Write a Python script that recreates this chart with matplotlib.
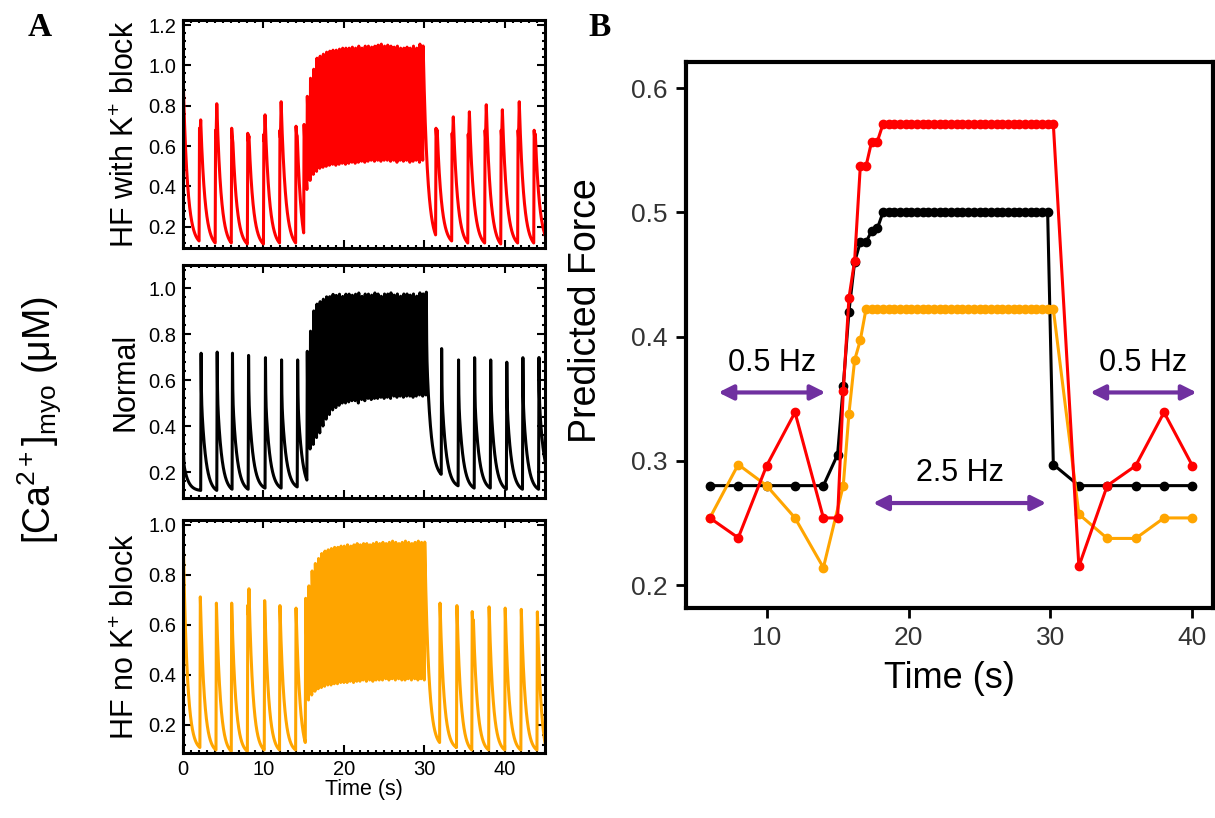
import numpy as np
import matplotlib
matplotlib.use("Agg")
import matplotlib.pyplot as plt
from matplotlib.ticker import MultipleLocator, AutoMinorLocator, FormatStrFormatter

plt.rcParams['font.family'] = ['Liberation Sans', 'DejaVu Sans']
plt.rcParams['mathtext.fontset'] = 'custom'
plt.rcParams['mathtext.rm'] = 'Liberation Sans'
plt.rcParams['mathtext.it'] = 'Liberation Sans:italic'

# ---------------- panel A : calcium transients (beat times, peaks, troughs) ----------------
# first_* = height of the early spike when a beat shows a double peak (None = single peak)
red_beats = [0, 2, 4, 6, 8, 10, 12, 14] + list(np.round(np.arange(15.0, 29.9, 0.4), 2)) + \
            [31.4, 33.4, 35.4, 37.5, 39.5, 41.6, 43.6]
red_first = [None, 0.69, 0.68, 0.69, 0.665, 0.66, 0.68, 0.70] + [None] * 38 + \
            [0.69, 0.665, 0.66, 0.68, 0.68, 0.68, 0.68]
red_peaks = [0.89, 0.73, 0.81, 0.62, 0.65, 0.755, 0.82, 0.65,
             0.71, 0.85, 0.94, 0.985, 1.04, 1.05, 1.06, 1.07, 1.075, 1.08, 1.08, 1.085, 1.09,
             1.09, 1.09, 1.095, 1.09, 1.10, 1.09, 1.10, 1.10, 1.095, 1.10, 1.105, 1.11, 1.10,
             1.105, 1.10, 1.095, 1.10, 1.09, 1.09, 1.095, 1.09, 1.10, 1.09, 1.11, 1.10,
             0.68, 0.745, 0.77, 0.805, 0.78, 0.82, 0.66]
red_troughs = [0.13, 0.12, 0.12, 0.115, 0.115, 0.12, 0.12, 0.17,
               0.385, 0.43, 0.46, 0.475, 0.49, 0.495, 0.50, 0.505, 0.51, 0.505, 0.51, 0.515,
               0.51, 0.515, 0.52, 0.515, 0.52, 0.525, 0.52, 0.525, 0.53, 0.525, 0.53, 0.525,
               0.53, 0.53, 0.525, 0.53, 0.52, 0.53, 0.525, 0.53, 0.52, 0.525, 0.53, 0.52,
               0.53, 0.16,
               0.13, 0.12, 0.12, 0.115, 0.12, 0.12, 0.16]

black_beats = [0, 2.2, 4.2, 6.1, 8.1, 10.2, 12.2, 14.2] + list(np.round(np.arange(15.4, 30.3, 0.4), 2)) + \
              [32.1, 34.2, 36.2, 38.2, 40.2, 42.2, 44.2]
black_first = [None] * 53
black_peaks = [0.30, 0.73, 0.735, 0.73, 0.72, 0.71, 0.70, 0.70,
               0.74, 0.83, 0.92, 0.95, 0.96, 0.97, 0.98, 0.98, 0.99, 0.985, 0.99, 0.98, 0.99,
               0.99, 0.985, 0.99, 0.995, 0.98, 0.99, 0.99, 0.985, 0.995, 0.99, 0.98, 0.99, 0.99,
               0.995, 0.985, 0.99, 0.98, 0.99, 0.99, 0.985, 0.99, 0.98, 0.995, 0.99, 1.0,
               0.75, 0.70, 0.71, 0.70, 0.69, 0.71, 0.71]
black_troughs = [0.12, 0.12, 0.125, 0.125, 0.13, 0.13, 0.135, 0.165,
                 0.30, 0.32, 0.35, 0.37, 0.40, 0.43, 0.45, 0.47, 0.48, 0.49, 0.50, 0.50, 0.505,
                 0.51, 0.51, 0.50, 0.515, 0.51, 0.52, 0.515, 0.52, 0.52, 0.525, 0.52, 0.525,
                 0.52, 0.53, 0.525, 0.53, 0.525, 0.53, 0.53, 0.525, 0.53, 0.535, 0.53, 0.535,
                 0.19,
                 0.14, 0.13, 0.13, 0.125, 0.125, 0.125, 0.25]

orange_beats = [0, 2.1, 4.1, 6.0, 8.0, 10.1, 12.0, 14.0] + list(np.round(np.arange(15.2, 30.1, 0.4), 2)) + \
               [31.9, 34.0, 35.9, 38.0, 40.0, 42.0, 44.0]
orange_first = [None, None, None, None, 0.68, None, None, None] + [None] * 38 + \
               [None, None, 0.655, None, None, None, None]
orange_peaks = [0.91, 0.715, 0.69, 0.69, 0.745, 0.70, 0.68, 0.67,
                0.71, 0.76, 0.82, 0.85, 0.87, 0.89, 0.90, 0.905, 0.91, 0.915, 0.915, 0.92, 0.92,
                0.925, 0.92, 0.925, 0.93, 0.925, 0.93, 0.93, 0.925, 0.93, 0.935, 0.93, 0.935,
                0.93, 0.935, 0.94, 0.935, 0.93, 0.935, 0.94, 0.935, 0.93, 0.935, 0.94, 0.935, 0.935,
                0.69, 0.68, 0.62, 0.675, 0.67, 0.665, 0.655]
orange_troughs = [0.11, 0.10, 0.095, 0.095, 0.10, 0.10, 0.10, 0.13,
                  0.30, 0.32, 0.335, 0.345, 0.35, 0.355, 0.36, 0.36, 0.365, 0.365, 0.37, 0.37,
                  0.37, 0.375, 0.37, 0.375, 0.375, 0.38, 0.375, 0.38, 0.375, 0.38, 0.38, 0.38,
                  0.385, 0.38, 0.385, 0.38, 0.385, 0.38, 0.38, 0.385, 0.38, 0.385, 0.38, 0.385,
                  0.38, 0.13,
                  0.11, 0.10, 0.10, 0.10, 0.10, 0.10, 0.13]

# ---------------- panel B : predicted force ----------------
t_pre = [6, 8, 10, 12, 14]
t_fast = list(np.round(np.arange(15.0, 30.3, 0.4), 2))
t_post = [32, 34, 36, 38, 40]

red_force = [0.254, 0.238, 0.296, 0.339, 0.254] + \
    [0.254, 0.356, 0.431, 0.461, 0.537, 0.537, 0.557, 0.557,
     0.571, 0.571, 0.571, 0.571, 0.571, 0.571, 0.571, 0.571, 0.571, 0.571, 0.571,
     0.571, 0.571, 0.571, 0.571, 0.571, 0.571, 0.571, 0.571, 0.571, 0.571,
     0.571, 0.571, 0.571, 0.571, 0.571, 0.571, 0.571, 0.571, 0.571, 0.571] + \
    [0.215, 0.280, 0.296, 0.339, 0.296]
black_force = [0.28, 0.28, 0.28, 0.28, 0.28] + \
    [0.305, 0.36, 0.42, 0.46, 0.476, 0.476, 0.485, 0.487,
     0.50, 0.50, 0.50, 0.50, 0.50, 0.50, 0.50, 0.50, 0.50, 0.50, 0.50,
     0.50, 0.50, 0.50, 0.50, 0.50, 0.50, 0.50, 0.50, 0.50, 0.50,
     0.50, 0.50, 0.50, 0.50, 0.50, 0.50, 0.50, 0.50, 0.50, 0.297] + \
    [0.28, 0.28, 0.28, 0.28, 0.28]
orange_force = [0.254, 0.297, 0.280, 0.254, 0.214] + \
    [0.280, 0.338, 0.381, 0.397,
     0.422, 0.422, 0.422, 0.422, 0.422, 0.422, 0.422, 0.422, 0.422, 0.422, 0.422,
     0.422, 0.422, 0.422, 0.422, 0.422, 0.422, 0.422, 0.422, 0.422, 0.422,
     0.422, 0.422, 0.422, 0.422, 0.422, 0.422, 0.422, 0.422, 0.422, 0.422, 0.422, 0.422, 0.422] + \
    [0.257, 0.2375, 0.2375, 0.254, 0.254]
t_red = t_pre + t_fast + t_post
t_black = t_pre + t_fast + t_post
t_orange = t_pre + t_fast[1:] + t_post


def build_trace(beats, firsts, peaks, troughs, start, t_end, tau, frac=0.0, tau1=0.03, dt=0.004):
    edges = list(beats) + [t_end]
    prev = start
    ts, ys = [], []
    g = lambda x: frac * np.exp(-x / tau1) + (1 - frac) * np.exp(-x / tau)
    for i in range(len(beats)):
        t0, t1 = edges[i], edges[i + 1]
        p, m, n = peaks[i], troughs[i], firsts[i]
        r = min(0.05, 0.15 * (t1 - t0))
        if n is not None:
            # early spike, small dip, then the second peak
            tk = [t0, t0 + r, t0 + 0.11, t0 + 0.2]
            vk = [prev, n, n - 0.04, p]
            r = 0.2
        else:
            tk = [t0, t0 + r]
            vk = [prev, p]
        tt = np.arange(t0, t1, dt)
        S = t1 - t0 - r
        s = np.clip(tt - t0 - r, 0, None)
        decay = m + (p - m) * (g(s) - g(S)) / (1 - g(S))
        rising = np.interp(tt, tk, vk)
        ys.append(np.where(tt < t0 + r, rising, decay))
        ts.append(tt)
        prev = m
    return np.concatenate(ts), np.concatenate(ys)


W, H = 1215, 818
fig = plt.figure(figsize=(W / 100, H / 100), dpi=100)


def fx(px):
    return px / W


def fy(py):
    return 1 - py / H


rows = [
    (red_beats, red_first, red_peaks, red_troughs, 0.10, 0.55, 0.0, '#FF0000', (0.095, 1.225),
     [0.2, 0.4, 0.6, 0.8, 1.0, 1.2], 20, 248, r'HF with K$^{+}$ block'),
    (black_beats, black_first, black_peaks, black_troughs, 0.30, 0.55, 0.3, '#000000', (0.087, 1.10),
     [0.2, 0.4, 0.6, 0.8, 1.0], 265, 498, 'Normal'),
    (orange_beats, orange_first, orange_peaks, orange_troughs, 0.10, 0.5, 0.0, '#FFA500', (0.088, 1.02),
     [0.2, 0.4, 0.6, 0.8, 1.0], 520, 753, r'HF no K$^{+}$ block'),
]

for k, (bt, fs, pk, tr, st, tau, frac, col, ylim, yt, top, bot, lab) in enumerate(rows):
    ax = fig.add_axes([fx(183), fy(bot), fx(545 - 183), (bot - top) / H])
    t, y = build_trace(bt, fs, pk, tr, st, 45.0, tau, frac)
    ax.plot(t, y, color=col, lw=2.2)
    ax.set_xlim(0, 45)
    ax.set_ylim(*ylim)
    ax.set_yticks(yt)
    ax.yaxis.set_major_formatter(FormatStrFormatter('%.1f'))
    ax.set_xticks([0, 10, 20, 30, 40])
    ax.xaxis.set_minor_locator(MultipleLocator(1))
    ax.yaxis.set_minor_locator(AutoMinorLocator(5))
    ax.tick_params(which='both', direction='in', top=True, right=True, width=1.5, labelsize=14.5, pad=5)
    ax.tick_params(which='major', length=6)
    ax.tick_params(which='minor', length=2.5)
    for sp in ax.spines.values():
        sp.set_linewidth(2.2)
    if k < 2:
        ax.tick_params(labelbottom=False)
    else:
        ax.set_xlabel('Time (s)', fontsize=15.5, labelpad=0)
    fig.text(fx(126), fy((top + bot) / 2), lab, rotation=90, ha='center', va='center', fontsize=22)

fig.text(fx(40), fy(420), r'[Ca$^{\mathrm{2+}}$]$_{\mathrm{myo}}$ ($\mathrm{\mu}$M)', rotation=90,
         ha='center', va='center', fontsize=27)
fig.text(fx(40), fy(28), 'A', family='Liberation Serif', weight='bold', fontsize=24, ha='center', va='center')
fig.text(fx(600), fy(28), 'B', family='Liberation Serif', weight='bold', fontsize=24, ha='center', va='center')

# ---------------- panel B ----------------
axb = fig.add_axes([fx(686), fy(608), fx(1213 - 686), (608 - 62) / H])
axb.plot(t_black, black_force, color='black', lw=2.2, marker='o', ms=6)
axb.plot(t_orange, orange_force, color='#FFA500', lw=2.2, marker='o', ms=6)
axb.plot(t_red, red_force, color='#FF0000', lw=2.2, marker='o', ms=6)
axb.set_xlim(4.32, 41.45)
axb.set_ylim(0.1815, 0.621)
axb.set_xticks([10, 20, 30, 40])
axb.set_yticks([0.2, 0.3, 0.4, 0.5, 0.6])
axb.yaxis.set_major_formatter(FormatStrFormatter('%.1f'))
axb.tick_params(direction='out', length=7, width=2, labelsize=19, labelcolor='#333333', pad=6)
for sp in axb.spines.values():
    sp.set_linewidth(3)
axb.set_xlabel('Time (s)', fontsize=26, labelpad=8)
axb.set_ylabel('Predicted Force', fontsize=27)
axb.yaxis.set_label_coords(-0.155, 0.545)

purple = '#7030A0'
arrow = dict(arrowstyle='<|-|>', color=purple, lw=3, mutation_scale=22, shrinkA=0, shrinkB=0)
for x0, x1, yy, txt, ty in [(6.6, 14.15, 0.355, '0.5 Hz', 0.379),
                            (17.5, 29.7, 0.266, '2.5 Hz', 0.290),
                            (32.8, 40.3, 0.355, '0.5 Hz', 0.379)]:
    axb.annotate('', xy=(x0, yy), xytext=(x1, yy), arrowprops=arrow)
    axb.text((x0 + x1) / 2, ty, txt, ha='center', va='center', fontsize=22)

fig.savefig('out.png', dpi=100)
